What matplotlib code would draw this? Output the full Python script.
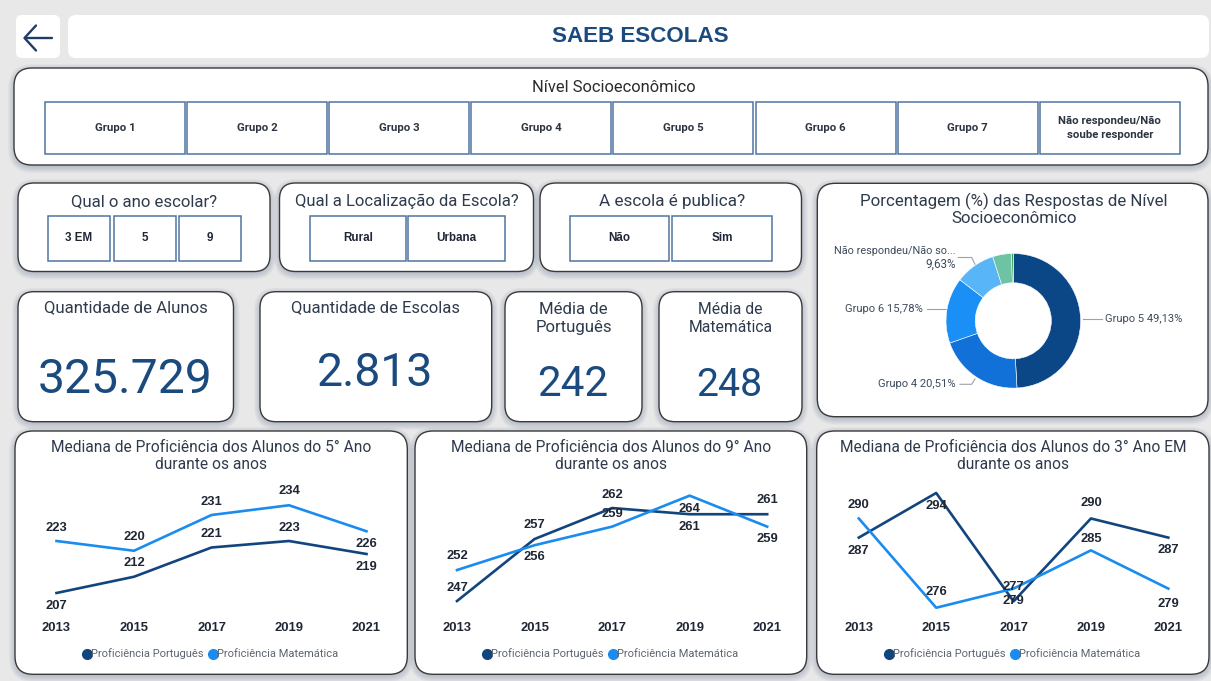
import matplotlib
matplotlib.use("Agg")
import matplotlib.pyplot as plt
from matplotlib.patches import FancyBboxPatch, Rectangle
from matplotlib.lines import Line2D

# ---------------- data ----------------
page_title = "SAEB ESCOLAS"
nse_title = "Nível Socioeconômico"
nse_groups = ["Grupo 1", "Grupo 2", "Grupo 3", "Grupo 4", "Grupo 5", "Grupo 6", "Grupo 7",
              "Não respondeu/Não\nsoube responder"]
ano_title = "Qual o ano escolar?"
ano_opts = ["3 EM", "5", "9"]
loc_title = "Qual a Localização da Escola?"
loc_opts = ["Rural", "Urbana"]
pub_title = "A escola é publica?"
pub_opts = ["Não", "Sim"]
kpi_titles = ["Quantidade de Alunos", "Quantidade de Escolas", "Média de\nPortuguês", "Média de\nMatemática"]
kpi_values = [325729, 2813, 242, 248]
donut_title = "Porcentagem (%) das Respostas de Nível\nSocioeconômico"
donut_labels = ["Grupo 5", "Grupo 4", "Grupo 6", "Não respondeu/Não soube responder", "Grupo 7", "Grupo 3"]
donut_pct = [49.13, 20.51, 15.78, 9.63, 4.55, 0.40]
years = [2013, 2015, 2017, 2019, 2021]
port_5 = [207, 212, 221, 223, 219]
mat_5 = [223, 220, 231, 234, 226]
port_9 = [247, 257, 262, 261, 261]
mat_9 = [252, 256, 259, 264, 259]
port_3em = [287, 294, 277, 290, 287]
mat_3em = [290, 276, 279, 285, 279]
series_names = ["Proficiência Português", "Proficiência Matemática"]
chart_titles = ["Mediana de Proficiência dos Alunos do 5° Ano\ndurante os anos",
                "Mediana de Proficiência dos Alunos do 9° Ano\ndurante os anos",
                "Mediana de Proficiência dos Alunos do 3° Ano EM\ndurante os anos"]

# ---------------- style ----------------
plt.rcParams['font.family'] = ['Roboto', 'DejaVu Sans']
BG = '#e8e8e8'
EDGE = '#3a3a3a'
SHADOW = '#5d7290'
NAVY = '#1a4a7e'
TXT = '#2f3b4c'
DARK = '#12457d'
LIGHT = '#1a8cef'
LBL = '#1f2735'
BTN_EDGE = '#4f74a0'
donut_colors = ['#0b4786', '#1271d8', '#1a8ff5', '#58b5f8', '#6ec3a5', '#2f9e4f']

W, H = 1211, 681
fig = plt.figure(figsize=(W / 100, H / 100), dpi=100)
fig.patch.set_facecolor(BG)
bg = fig.add_axes([0, 0, 1, 1])
bg.set_xlim(0, W)
bg.set_ylim(H, 0)
bg.axis('off')
renderer = fig.canvas.get_renderer()


def panel(x0, y0, x1, y1, r=16, edge=True, shadow=True):
    if shadow:
        for i in range(7, 0, -1):
            bg.add_patch(FancyBboxPatch((x0 - i + 1, y0 - i + 3), x1 - x0 + 2 * i - 2, y1 - y0 + 2 * i - 2,
                                        boxstyle=f"round,pad=0,rounding_size={r + i}",
                                        fc=SHADOW, ec='none', alpha=0.05, zorder=1))
    bg.add_patch(FancyBboxPatch((x0, y0), x1 - x0, y1 - y0, boxstyle=f"round,pad=0,rounding_size={r}",
                                fc='white', ec=EDGE if edge else 'none', lw=1.0, zorder=2))


def text(x, y, s, width=None, size=10, **kw):
    kw.setdefault('ha', 'center')
    kw.setdefault('va', 'center')
    t = bg.text(x, y, s, fontsize=size, zorder=6, **kw)
    if width:
        w = t.get_window_extent(renderer).width
        t.set_fontsize(size * width / w)
    return t


def button(x0, y0, x1, y1, label, **kw):
    bg.add_patch(Rectangle((x0, y0), x1 - x0, y1 - y0, fc='white', ec=BTN_EDGE, lw=1.1, zorder=4))
    return text((x0 + x1) / 2, (y0 + y1) / 2, label, **kw)


# ---------------- header ----------------
panel(16, 15, 60, 58, r=6, edge=False, shadow=False)
bg.plot([24.5, 51.5], [38, 38], color='#1f3e66', lw=1.7, zorder=6, solid_capstyle='round')
bg.plot([36, 24.5, 36], [25.5, 38, 50.5], color='#1f3e66', lw=1.7, zorder=6, solid_capstyle='round')
panel(68, 15, 1209, 58, r=8, edge=False, shadow=False)
text(640, 37, page_title, width=177, size=15, color=NAVY, fontweight='bold', fontfamily='Liberation Sans')

# ---------------- nivel socioeconomico ----------------
panel(14, 68, 1208, 165, r=18)
text(613.7, 87, nse_title, width=163.5, size=11, color='#2b2b2b')
for i, g in enumerate(nse_groups):
    x0 = 45 + i * 142.1
    button(x0, 102, x0 + 140, 154, g, size=8.2, color='#2b3440', fontweight='bold', linespacing=1.5)

# ---------------- filters ----------------
panel(18, 183, 270, 271.5, r=16)
text(144, 201.5, ano_title, width=146, size=11, color=TXT)
for (a, b), o in zip([(48, 110), (113.6, 175.6), (179, 241)], ano_opts):
    button(a, 216, b, 260.5, o, size=8.4, color=LBL, fontweight='bold', fontfamily='Liberation Sans')

panel(279.5, 183, 533.5, 271.5, r=16)
text(407, 201.5, loc_title, width=222.6, size=11, color=TXT)
for (a, b), o in zip([(310, 405.5), (408, 504.5)], loc_opts):
    button(a, 216, b, 260.5, o, size=8.4, color=LBL, fontweight='bold', fontfamily='Liberation Sans')

panel(540, 183, 801.5, 271.5, r=16)
text(672, 201.5, pub_title, width=146, size=11, color=TXT)
for (a, b), o in zip([(569.7, 669.4), (672, 772)], pub_opts):
    button(a, 216, b, 260.5, o, size=8.4, color=LBL, fontweight='bold', fontfamily='Liberation Sans')

# ---------------- KPI cards ----------------
cards = [(18, 233.5), (260, 491.7), (505, 642), (659, 802)]
title_w = [164, 169, 76.5, 84]
title_y = [308, 307.7, 318.5, 318.5]
val_w = [174, 116, 71, 66]
val_base = [393.3, 385.7, 395.7, 395.7]
for (a, b), t, tw, ty, v, vw, vb in zip(cards, kpi_titles, title_w, title_y, kpi_values, val_w, val_base):
    panel(a, 291.7, b, 421.7, r=16)
    text((a + b) / 2, ty, t, width=tw, size=11, color=TXT, linespacing=1.25)
    text((a + b) / 2 - 1, vb, f"{v:,}".replace(",", "."), width=vw, size=30, color=NAVY, va='baseline')

# ---------------- donut ----------------
panel(817.3, 183.3, 1208, 416.7, r=18)
text(1014, 209.5, donut_title, width=306.7, size=11, color=TXT, linespacing=1.1)
cx, cy, R = 1013.3, 320.8, 67.3
dax = fig.add_axes([(cx - R) / W, 1 - (cy + R) / H, 2 * R / W, 2 * R / H])
dax.pie(donut_pct, colors=donut_colors, startangle=90, counterclock=False, radius=1,
        wedgeprops=dict(width=0.435, edgecolor='white', linewidth=0.4))
dax.set_xlim(-1, 1)
dax.set_ylim(-1, 1)
dax.axis('off')


def pct(v):
    return f"{v:.2f}%".replace('.', ',')


LC = '#3d4a5c'
LN = '#9aa3ad'
text(1105, 319.3, f"{donut_labels[0]} {pct(donut_pct[0])}", width=77.7, size=8, color=LC, ha='left')
bg.plot([1083, 1101.7], [319.3, 319.3], color=LN, lw=0.8, zorder=6)
text(956, 384.3, f"{donut_labels[1]} {pct(donut_pct[1])}", width=78, size=8, color=LC, ha='right')
bg.plot([960, 971.7, 975], [384.3, 384.3, 379], color=LN, lw=0.8, zorder=6)
text(923.3, 309.3, f"{donut_labels[2]} {pct(donut_pct[2])}", width=78.3, size=8, color=LC, ha='right')
bg.plot([927, 946], [309.3, 309.3], color=LN, lw=0.8, zorder=6)
text(955.7, 251, donut_labels[3][:20] + "...", width=122, size=8, color=LC, ha='right')
text(955.7, 264.3, pct(donut_pct[3]), width=30.7, size=8, color=LC, ha='right')
bg.plot([958.3, 971.7, 975], [257.5, 257.5, 264.3], color=LN, lw=0.8, zorder=6)

# ---------------- line charts ----------------
def line_chart(panel_x, xs, ylim, port, mat, offs_p, offs_m, title, title_w):
    x0p, x1p = panel_x
    panel(x0p, 431, x1p, 674.3, r=18)
    text((x0p + x1p) / 2, 456, title, width=title_w, size=10.5, color=TXT, linespacing=1.1)
    xa, xb = xs
    ya, yb = 488, 612
    ax = fig.add_axes([xa / W, 1 - yb / H, (xb - xa) / W, (yb - ya) / H])
    ax.set_xlim(years[0], years[-1])
    ax.set_ylim(*ylim)
    ax.patch.set_alpha(0)
    for s in ax.spines.values():
        s.set_visible(False)
    ax.set_yticks([])
    ax.set_xticks(years)
    ax.set_xticklabels([str(y) for y in years], fontfamily='Liberation Sans', fontweight='bold',
                       fontsize=9.4, color=LBL)
    ax.tick_params(axis='x', length=0, pad=7)
    ax.plot(years, port, color=DARK, lw=1.9, clip_on=False, zorder=3)
    ax.plot(years, mat, color=LIGHT, lw=1.9, clip_on=False, zorder=3)
    for vals, offs in ((port, offs_p), (mat, offs_m)):
        for x, v, o in zip(years, vals, offs):
            ax.annotate(str(v), (x, v), xytext=(0, -o * 0.72), textcoords='offset points',
                        ha='center', va='center', fontsize=9.4, fontweight='bold',
                        fontfamily='Liberation Sans', color=LBL, annotation_clip=False, zorder=5)
    handles = [Line2D([], [], marker='o', ls='none', color=DARK, markersize=7),
               Line2D([], [], marker='o', ls='none', color=LIGHT, markersize=7)]
    ax.legend(handles, series_names, loc='center', bbox_to_anchor=((x0p + x1p) / 2, 654),
              bbox_transform=bg.transData, ncol=2, frameon=False, fontsize=8,
              handlelength=0.6, handletextpad=0.1, columnspacing=0.5, borderpad=0,
              labelcolor='#5c6570')
    return ax


line_chart((15, 407.3), (56.5, 366.5), (201.15, 239.31), port_5, mat_5,
           [13, -14, -13, -13, 13], [-13, -14, -13, -14, 13], chart_titles[0], 320)
line_chart((415, 806.7), (457, 767.2), (245.23, 265.23), port_9, mat_9,
           [-13, -14, -13, 13, -14], [-14, 12, -13, 13, 12], chart_titles[1], 319)
line_chart((816.7, 1209), (858.8, 1168.3), (275.33, 294.78), port_3em, mat_3em,
           [13, 13, -14, -15, 12], [-13, -16, 12, -11, 15], chart_titles[2], 345.7)

fig.savefig("out.png", dpi=100, facecolor=BG)
